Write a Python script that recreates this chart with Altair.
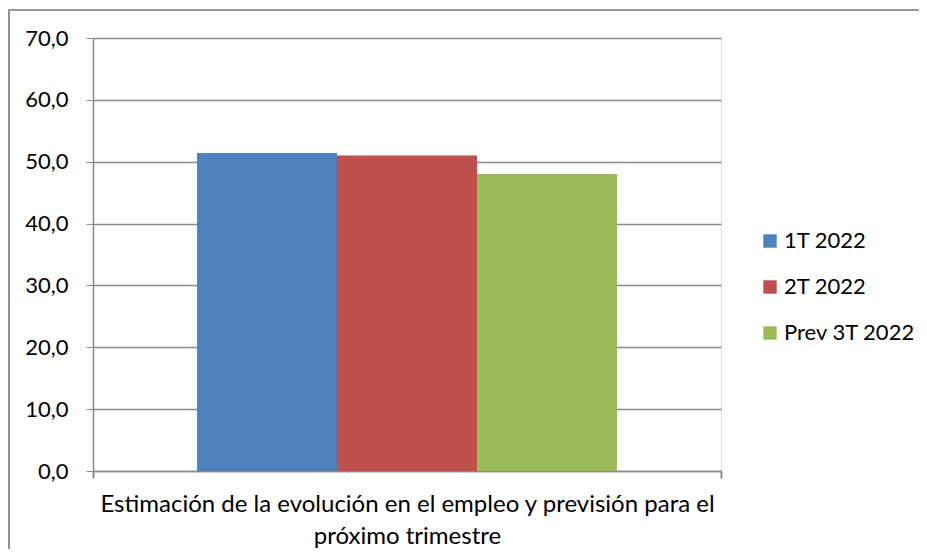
import altair as alt
import pandas as pd

categories = ["Estimación de la evolución en el empleo y previsión para el próximo trimestre"]
series = ["1T 2022", "2T 2022", "Prev 3T 2022"]
values = [51.4, 51.0, 48.0]
colors = ["#4F81BD", "#C0504D", "#9BBB59"]
y_ticks = [0, 10, 20, 30, 40, 50, 60, 70]

df = pd.DataFrame({
    "categoria": [categories[0]] * len(series),
    "serie": series,
    "valor": values,
})

title_lines = ["Estimación de la evolución en el empleo y previsión para el",
               "próximo trimestre"]

FONT = "Lato"
GRAY = "#8a8a8a"

bars = alt.Chart(df).mark_bar().encode(
    x=alt.X("categoria:N",
            scale=alt.Scale(paddingInner=0, paddingOuter=0),
            axis=alt.Axis(labels=False, tickBand="extent", tickSize=7,
                          tickColor=GRAY, domainColor=GRAY, tickWidth=2,
                          domainWidth=1.5, grid=False, title=title_lines,
                          titleFont=FONT, titleFontSize=24,
                          titleFontWeight="normal", titleColor="#000000",
                          titleLineHeight=32, titlePadding=13)),
    xOffset=alt.XOffset("serie:N", sort=series,
                        scale=alt.Scale(paddingInner=0, paddingOuter=0.743)),
    y=alt.Y("valor:Q",
            scale=alt.Scale(domain=[0, 70], nice=False),
            axis=alt.Axis(values=y_ticks, title=None, tickSize=7,
                          tickColor=GRAY, domainColor=GRAY, domainWidth=1.5,
                          gridColor=GRAY, gridWidth=1.5,
                          labelFont=FONT, labelFontSize=22,
                          labelColor="#000000", labelPadding=18,
                          labelExpr="replace(format(datum.value, '.1f'), '.', ',')")),
    color=alt.Color("serie:N", sort=series,
                    scale=alt.Scale(domain=series, range=colors),
                    legend=alt.Legend(title=None, orient="none",
                                      legendX=666, legendY=192,
                                      symbolType="square", symbolSize=180,
                                      symbolStrokeWidth=0,
                                      labelFont=FONT, labelFontSize=22,
                                      labelColor="#000000", rowPadding=24,
                                      labelOffset=3)),
)

frame = alt.Chart(df).mark_rect(filled=False, stroke=GRAY, strokeWidth=1.2).encode(
    x=alt.value(-84), x2=alt.value(1000), y=alt.value(-28), y2=alt.value(1000)
)

chart = alt.layer(frame, bars).properties(
    width=628, height=433,
    autosize=alt.AutoSizeParams(type="none"),
    padding={"left": 85, "top": 30, "right": 198, "bottom": 78},
).configure_view(stroke=None).configure(background="#ffffff")

chart.save("out.html", embed_options={"renderer": "svg", "actions": False})
